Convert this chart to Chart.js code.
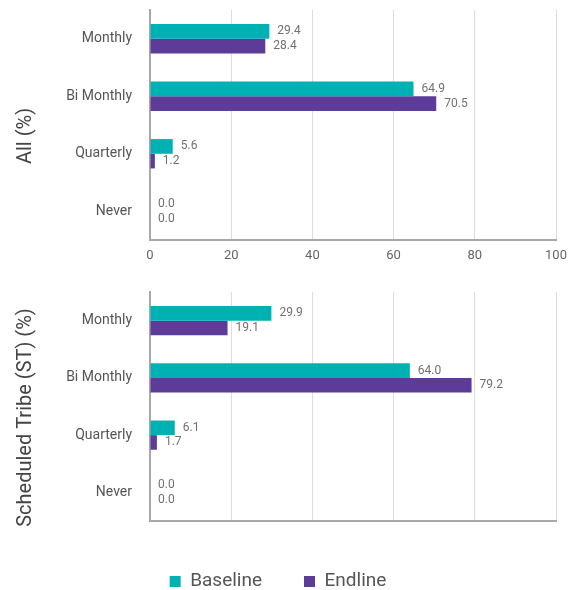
<!DOCTYPE html>
<html>
<head>
<meta charset="utf-8">
<script src="https://cdn.jsdelivr.net/npm/chart.js@4"></script>
<style>
  body { margin: 0; background: #fff; overflow: hidden; }
  .box { position: absolute; left: 0; width: 577px; }
</style>
</head>
<body>
<div class="box" style="top:0"><canvas id="allChart" width="577" height="275"></canvas></div>
<div class="box" style="top:282px"><canvas id="stChart" width="577" height="308"></canvas></div>
<script>
// Dados
const categories = ['Monthly', 'Bi Monthly', 'Quarterly', 'Never'];
const seriesNames = ['Baseline', 'Endline'];
const allBaseline = [29.4, 64.9, 5.6, 0.0];
const allEndline = [28.4, 70.5, 1.2, 0.0];
const stBaseline = [29.9, 64.0, 6.1, 0.0];
const stEndline = [19.1, 79.2, 1.7, 0.0];
const xMin = 0, xMax = 100, xStep = 20;

const TEAL = '#00b1b3';
const PURPLE = '#5c3c98';
const FONT = 'Roboto';

// rótulos de valor no fim das barras
const valueLabels = {
  id: 'valueLabels',
  afterDatasetsDraw(chart) {
    const ctx = chart.ctx;
    ctx.save();
    ctx.font = '12px ' + FONT;
    ctx.fillStyle = '#707070';
    ctx.textAlign = 'left';
    ctx.textBaseline = 'middle';
    chart.data.datasets.forEach((ds, i) => {
      chart.getDatasetMeta(i).data.forEach((bar, j) => {
        ctx.fillText(ds.data[j].toFixed(1), bar.x + 8, bar.y);
      });
    });
    ctx.restore();
  }
};

// título lateral (rotacionado)
const sideTitle = {
  id: 'sideTitle',
  afterDraw(chart, args, opts) {
    const { ctx, chartArea } = chart;
    ctx.save();
    ctx.translate(opts.x, (chartArea.top + chartArea.bottom) / 2 + opts.shift);
    ctx.rotate(-Math.PI / 2);
    ctx.font = '20px ' + FONT;
    ctx.fillStyle = '#444';
    ctx.textAlign = 'center';
    ctx.textBaseline = 'middle';
    ctx.fillText(opts.text, 0, 0);
    ctx.restore();
  }
};

function makeChart(id, title, baseline, endline, withLegend) {
  const ctx = document.getElementById(id).getContext('2d');
  return new Chart(ctx, {
    type: 'bar',
    data: {
      labels: categories,
      datasets: [
        { label: seriesNames[0], data: baseline, backgroundColor: TEAL },
        { label: seriesNames[1], data: endline, backgroundColor: PURPLE }
      ]
    },
    options: {
      indexAxis: 'y',
      responsive: false,
      animation: false,
      categoryPercentage: 0.51,
      barPercentage: 1.0,
      layout: { padding: { top: 10, right: 21, bottom: 0, left: 0 } },
      scales: {
        x: {
          min: xMin,
          max: xMax,
          ticks: { stepSize: xStep, color: '#666', font: { family: FONT, size: 13 }, padding: 8 },
          grid: { color: '#dddddd', lineWidth: 1, drawTicks: false },
          border: { color: '#a8a8a8', width: 2 },
          afterFit: s => { s.height = withLegend ? 9 : 35; }
        },
        y: {
          ticks: { color: '#555', font: { family: FONT, size: 14 }, padding: 18 },
          grid: { display: false, drawTicks: false },
          border: { color: '#a8a8a8', width: 2 },
          afterFit: s => { s.width = 150; s.paddingTop = 0; s.paddingBottom = 0; }
        }
      },
      plugins: {
        legend: {
          display: withLegend,
          position: 'bottom',
          maxHeight: 60,
          labels: {
            boxWidth: 11,
            boxHeight: 11,
            padding: 42,
            color: '#555',
            font: { family: FONT, size: 19 }
          }
        },
        tooltip: { enabled: false },
        sideTitle: { text: title, x: 26, shift: 11 }
      }
    },
    plugins: [valueLabels, sideTitle]
  });
}

makeChart('allChart', 'All (%)', allBaseline, allEndline, false);
makeChart('stChart', 'Scheduled Tribe (ST) (%)', stBaseline, stEndline, true);
</script>
</body>
</html>
